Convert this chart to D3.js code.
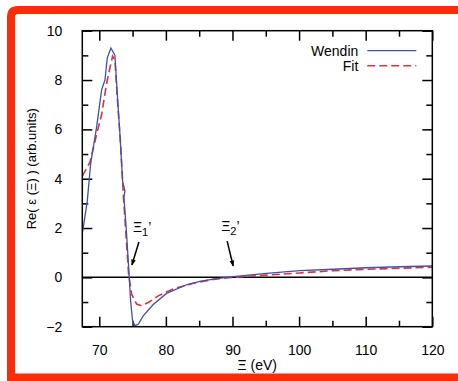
<!DOCTYPE html>
<html>
<head>
<meta charset="utf-8">
<script src="https://cdn.jsdelivr.net/npm/d3@7"></script>
<style>
  body { margin: 0; background: #fff; }
  svg { display: block; font-family: "Liberation Sans", Arial, sans-serif; }
</style>
</head>
<body>
<div id="chart"></div>
<script>
// curve data
const wendinX = [67.45, 67.6, 68.2, 68.7, 69.6, 70.35, 70.85, 71.2, 71.75, 72.35, 72.7, 73.1, 73.5, 73.85, 73.7, 74.1, 74.5, 74.7, 75.0, 75.35, 75.85, 76.6, 78.1, 80.1, 83.1, 85.1, 87.6, 90.1, 95.1, 100.1, 105.1, 110.1, 115.1, 120];
const wendinY = [1.8, 2.03, 3.1, 4.6, 6.1, 7.6, 8.0, 8.9, 9.3, 9.0, 7.45, 5.8, 3.9, 3.5, 3.25, 1.76, 0, -0.95, -1.76, -1.96, -1.9, -1.56, -1.1, -0.65, -0.3, -0.16, -0.05, 0.03, 0.16, 0.27, 0.33, 0.39, 0.43, 0.46];
const fitX = [67.45, 68.6, 69.6, 70.35, 71.1, 71.6, 72.0, 72.35, 72.7, 73.2, 73.6, 74.0, 74.4, 74.85, 75.6, 76.35, 77.35, 78.85, 81.1, 84.1, 87.1, 90.1, 95.1, 100.1, 105.1, 110.1, 115.1, 120];
const fitY = [4.1, 4.67, 5.8, 6.6, 7.86, 8.5, 8.97, 8.8, 7.3, 5.4, 3.4, 1.76, 0.14, -0.68, -1.08, -1.15, -1.02, -0.75, -0.47, -0.24, -0.08, 0, 0.09, 0.18, 0.27, 0.33, 0.37, 0.41];

const xTicks = [70, 80, 90, 100, 110, 120];
const xMinor = [75, 85, 95, 105, 115];
const yTicks = [-2, 0, 2, 4, 6, 8, 10];
const yMinor = [-1, 1, 3, 5, 7, 9];

// arrows: [label, sub, tail x, tail y, head x, head y]
const marks = [
  ["Ξ", "1", 75.95, 1.43, 74.9, 0.5],
  ["Ξ", "2", 89.2, 1.47, 90.1, 0.46]
];

const W = 458, H = 381;
const margin = {top: 30.7, right: 25.7, bottom: 54.3, left: 82.3},
    width = W - margin.left - margin.right,
    height = H - margin.top - margin.bottom;

const svg = d3.select("#chart").append("svg")
    .attr("width", W).attr("height", H);

// red frame round the figure
svg.append("path")
  .attr("d", "M 470 10 L 18 10 Q 11 10 11 17 L 11 377.5 L 470 377.5")
  .attr("fill", "none")
  .attr("stroke", "#fb2c0a")
  .attr("stroke-width", 8);

const defs = svg.append("defs");
defs.append("marker")
  .attr("id", "head")
  .attr("viewBox", "0 0 10 10")
  .attr("refX", 9).attr("refY", 5)
  .attr("markerWidth", 5).attr("markerHeight", 4)
  .attr("orient", "auto")
  .append("path").attr("d", "M0,1 L10,5 L0,9 z").attr("fill", "#000");
defs.append("clipPath").attr("id", "clip")
  .append("rect").attr("width", width).attr("height", height);

const g = svg.append("g")
    .attr("transform", `translate(${margin.left},${margin.top})`);

const x = d3.scaleLinear().domain([67.45, 120]).range([0, width]);
const y = d3.scaleLinear().domain([-2, 10]).range([height, 0]);

// axes, ticks pointing inward on all four sides
function axisStyle(sel) {
  sel.select(".domain").remove();
  sel.selectAll("line").attr("stroke", "#000").attr("stroke-width", 1.5);
  sel.selectAll("text").attr("fill", "#000").style("font-size", "14px");
}
g.append("g").attr("transform", `translate(0,${height})`)
  .call(d3.axisBottom(x).tickValues(xTicks).tickSize(-10).tickPadding(18).tickFormat(d3.format("d")))
  .call(axisStyle);
g.append("g").attr("transform", `translate(0,${height})`)
  .call(d3.axisBottom(x).tickValues(xMinor).tickSize(-6).tickFormat(""))
  .call(axisStyle);
g.append("g")
  .call(d3.axisTop(x).tickValues(xTicks).tickSize(-10).tickFormat(""))
  .call(axisStyle);
g.append("g")
  .call(d3.axisTop(x).tickValues(xMinor).tickSize(-6).tickFormat(""))
  .call(axisStyle);
g.append("g")
  .call(d3.axisLeft(y).tickValues(yTicks).tickSize(-10).tickPadding(20)
    .tickFormat(d => d < 0 ? "\u2212" + Math.abs(d) : d))
  .call(axisStyle);
g.append("g")
  .call(d3.axisLeft(y).tickValues(yMinor).tickSize(-6).tickFormat(""))
  .call(axisStyle);
g.append("g").attr("transform", `translate(${width},0)`)
  .call(d3.axisRight(y).tickValues(yTicks).tickSize(-10).tickFormat(""))
  .call(axisStyle);
g.append("g").attr("transform", `translate(${width},0)`)
  .call(d3.axisRight(y).tickValues(yMinor).tickSize(-6).tickFormat(""))
  .call(axisStyle);

// zero line
g.append("line")
  .attr("x1", 0).attr("x2", width)
  .attr("y1", y(0)).attr("y2", y(0))
  .attr("stroke", "#000").attr("stroke-width", 1.5);

const line = d3.line().x(d => x(d[0])).y(d => y(d[1]));
const plot = g.append("g").attr("clip-path", "url(#clip)");

plot.append("path")
  .datum(d3.zip(fitX, fitY))
  .attr("fill", "none")
  .attr("stroke", "#d8363f")
  .attr("stroke-width", 1.6)
  .attr("stroke-dasharray", "8,4")
  .attr("d", line);

plot.append("path")
  .datum(d3.zip(wendinX, wendinY))
  .attr("fill", "none")
  .attr("stroke", "#4250ad")
  .attr("stroke-width", 1.3)
  .attr("d", line);

// frame
g.append("rect")
  .attr("width", width).attr("height", height)
  .attr("fill", "none").attr("stroke", "#000").attr("stroke-width", 1.5);

// arrows and labels
marks.forEach(m => {
  g.append("line")
    .attr("x1", x(m[2])).attr("y1", y(m[3]))
    .attr("x2", x(m[4])).attr("y2", y(m[5]))
    .attr("stroke", "#000").attr("stroke-width", 1.5)
    .attr("marker-end", "url(#head)");
  const t = g.append("text")
    .attr("x", x(m[2]) - 6).attr("y", y(m[3]) - 10)
    .style("font-size", "14px");
  t.append("tspan").text(m[0]);
  t.append("tspan").attr("dy", 4).style("font-size", "11px").text(m[1]);
  t.append("tspan").attr("dy", -4).text("’");
});

// legend
const legend = [["Wendin", "#4250ad", null, 1.3], ["Fit", "#d8363f", "8,4", 1.6]];
legend.forEach((d, i) => {
  const ly = 20 + i * 15;
  g.append("text")
    .attr("x", 276).attr("y", ly + 5)
    .attr("text-anchor", "end")
    .style("font-size", "14px")
    .text(d[0]);
  g.append("line")
    .attr("x1", 285).attr("x2", 334)
    .attr("y1", ly).attr("y2", ly)
    .attr("stroke", d[1]).attr("stroke-width", d[3])
    .attr("stroke-dasharray", d[2]);
});

// axis titles
svg.append("text")
  .attr("x", margin.left + width / 2).attr("y", 370)
  .attr("text-anchor", "middle")
  .style("font-size", "14px")
  .text("Ξ (eV)");

svg.append("text")
  .attr("transform", `translate(36,${margin.top + height / 2 - 10}) rotate(-90)`)
  .attr("text-anchor", "middle")
  .style("font-size", "13px")
  .text("Re( ε (Ξ) ) (arb.units)");
</script>
</body>
</html>
